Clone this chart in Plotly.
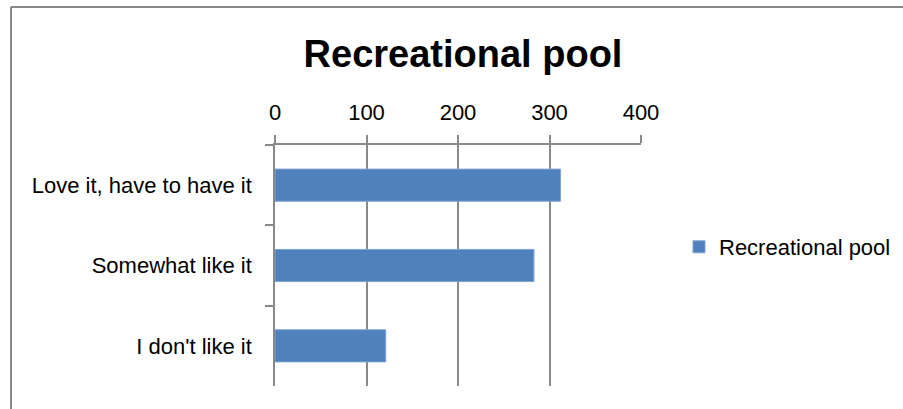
import plotly.graph_objects as go

categories = ["Love it, have to have it", "Somewhat like it", "I don't like it"]
values = [312, 283, 121]
series_name = "Recreational pool"
x_ticks = [0, 100, 200, 300, 400]

W, H = 903, 409
L, R, T, B = 275, 903 - 641, 145, 409 - 386
pw = W - L - R
ph = H - T - B

grid = "#898989"
font = "Liberation Sans, Arial, sans-serif"

fig = go.Figure()
fig.add_trace(go.Bar(
    y=categories, x=values, orientation="h", name=series_name,
    marker=dict(color="#4F81BD", line=dict(color="#7FA3D2", width=1)),
    showlegend=True,
))

def px_x(p):
    return (p - L) / pw

def px_y(p):
    return (H - B - p) / ph

border = dict(color=grid, width=2)

fig.update_layout(
    width=W, height=H,
    margin=dict(l=L, r=R, t=T, b=B, pad=0, autoexpand=False),
    paper_bgcolor="white", plot_bgcolor="white",
    font=dict(family=font, size=22, color="black"),
    bargap=0.6,
    title=dict(text="<b>Recreational pool</b>", x=463 / W, xref="container",
               y=1 - 54 / H, yref="container", xanchor="center", yanchor="middle",
               font=dict(family=font, size=38, color="black")),
    xaxis=dict(side="top", range=[0, 400], tickvals=x_ticks,
               ticktext=[str(v) for v in x_ticks],
               showgrid=True, gridcolor=grid, gridwidth=1.5,
               showline=True, linecolor=grid, linewidth=1.5,
               ticks="outside", ticklen=8, tickcolor=grid, tickwidth=1.5,
               zeroline=False, ticklabelstandoff=6, fixedrange=True),
    yaxis=dict(autorange="reversed", showgrid=False,
               showline=True, linecolor=grid, linewidth=1.5,
               ticks="outside", ticklen=8, tickcolor=grid, tickwidth=1.5,
               tickson="boundaries", ticklabelstandoff=17, fixedrange=True),
    legend=dict(x=px_x(679), y=px_y(247), xanchor="left", yanchor="middle",
                font=dict(family=font, size=22, color="black"),
                bgcolor="rgba(0,0,0,0)"),
    shapes=[
        dict(type="line", xref="paper", yref="paper",
             x0=px_x(11), x1=px_x(920), y0=px_y(7), y1=px_y(7),
             line=border, layer="below"),
        dict(type="line", xref="paper", yref="paper",
             x0=px_x(11), x1=px_x(11), y0=px_y(7), y1=px_y(430),
             line=border, layer="below"),
    ],
)

fig.write_html(
    "out.html",
    config={"displayModeBar": False},
    post_script=(
        "document.documentElement.style.margin='0';"
        "document.documentElement.style.overflow='hidden';"
        "document.body.style.margin='0';"
        "document.body.style.overflow='hidden';"
    ),
)
